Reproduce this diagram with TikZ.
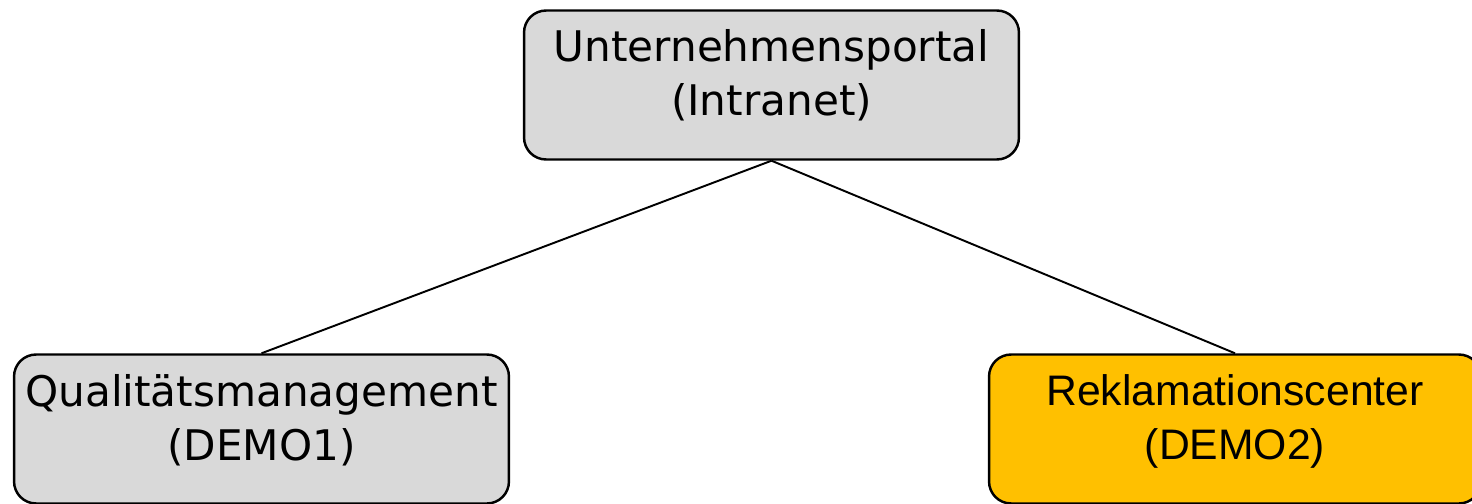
\documentclass[tikz,border=0pt]{standalone}
\usepackage{fontspec}
\setmainfont{DejaVu Sans}
\newfontfamily\arialfont{Liberation Sans}
\begin{document}
\begin{tikzpicture}
        [x=0.02cm,y=-0.02cm,
        every node/.style={font=\fontsize{24}{31}\selectfont,align=center},
        box/.style={draw,line width=1.4pt,rounded corners=0.44cm,minimum width=9.9cm,minimum height=2.98cm,fill=grayfill},
        label text/.style={anchor=north,inner sep=0pt}]
        \definecolor{grayfill}{HTML}{D9D9D9}
        \definecolor{orangefill}{HTML}{FFC000}
        \useasboundingbox (0,0) rectangle (1472,504);
        \clip (0,0) rectangle (1472,504);
        %Boxes
        \node[box]  (PORTAL) at (771.5,85)                      {};
        \node[box]  (DEMO1) at (261.5,429)                      {};
        \node[box,fill=orangefill,minimum width=9.84cm] (DEMO2) at (1235,429) {};
        %Texts
        \node[label text] (PORTALTXT) at (771.5,29)             {Unternehmensportal\\(Intranet)};
        \node[label text] (DEMO1TXT) at (261.5,374)             {Qualitätsmanagement\\(DEMO1)};
        \node[label text,font=\arialfont\fontsize{24.3}{31}\selectfont] (DEMO2TXT) at (1235,374) {Reklamationscenter\\(DEMO2)};
        
        \draw[line width=1.1pt]
        (PORTAL.south)  edge    (DEMO1.north)
        (PORTAL.south)  edge    (DEMO2.north);
    \end{tikzpicture}
\end{document}
